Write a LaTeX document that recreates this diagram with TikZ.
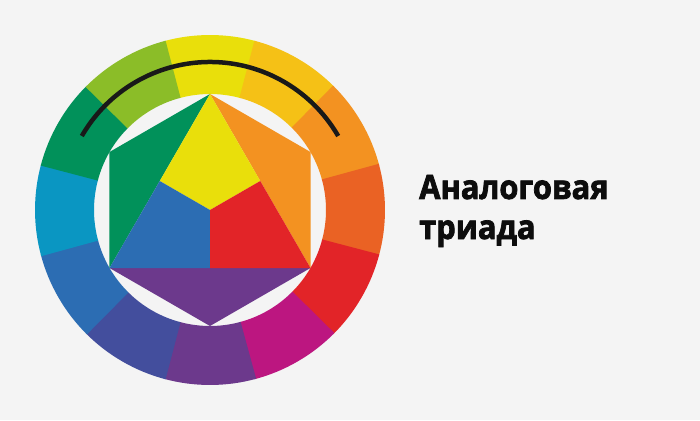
\documentclass[tikz,border=0pt]{standalone}
\usepackage{fontspec}
\newfontfamily\lblfont{Open Sans}[BoldFeatures={FakeBold=2.2,FakeStretch=0.92}]
\begin{document}
\begin{tikzpicture}[x=1pt,y=1pt]
\definecolor{bg}{HTML}{F4F4F4}
\definecolor{cY}{HTML}{E9DF0B}
\definecolor{cYO}{HTML}{F5C116}
\definecolor{cO}{HTML}{F39221}
\definecolor{cRO}{HTML}{EA6224}
\definecolor{cR}{HTML}{E22428}
\definecolor{cM}{HTML}{BC1680}
\definecolor{cP}{HTML}{6C398C}
\definecolor{cBV}{HTML}{434E9D}
\definecolor{cB}{HTML}{2C6DB3}
\definecolor{cC}{HTML}{0A96C2}
\definecolor{cG}{HTML}{01915A}
\definecolor{cYG}{HTML}{8BBD28}
\tikzset{lbl/.style={anchor=base west,inner sep=0pt,font=\lblfont\bfseries\fontsize{33.5}{40}\selectfont,text=black!95}}
\fill[bg] (-210,-210) rectangle (490,210);
\useasboundingbox (-210,-210) rectangle (490,210);
% ring
\foreach \a/\c in {90/cY,60/cYO,30/cO,0/cRO,-30/cR,-60/cM,-90/cP,-120/cBV,-150/cB,180/cC,150/cG,120/cYG}{
  \fill[\c] (\a-15.3:175pt) arc[start angle=\a-15.3,end angle=\a+15.3,radius=175pt]
     -- (\a+15.3:116pt) arc[start angle=\a+15.3,end angle=\a-15.3,radius=116pt] -- cycle;
}
% inner hexagon
\coordinate (T) at (0,116);
\coordinate (UL) at (-100.5,58);
\coordinate (UR) at (100.5,58);
\coordinate (LL) at (-100.5,-58);
\coordinate (LR) at (100.5,-58);
\coordinate (B) at (0,-116);
\coordinate (ML) at (-50.25,29);
\coordinate (MR) at (50.25,29);
\coordinate (C) at (0,0);
\coordinate (BC) at (0,-58);
\fill[cG] (T) -- (UL) -- (LL) -- cycle;
\fill[cO] (T) -- (UR) -- (LR) -- cycle;
\fill[cP] (LL) -- (LR) -- (B) -- cycle;
\fill[cY] (T) -- (ML) -- (C) -- (MR) -- cycle;
\fill[cB] (ML) -- (C) -- (BC) -- (LL) -- cycle;
\fill[cR] (MR) -- (C) -- (BC) -- (LR) -- cycle;
% arc
\draw[line width=4.5pt,black!90] (150:148pt) arc[start angle=150,end angle=30,radius=148pt];
% text
\node[lbl] (t1) at (209,11) {Аналоговая};
\node[lbl] (t2) at (209,-29) {триада};
\end{tikzpicture}
\end{document}
